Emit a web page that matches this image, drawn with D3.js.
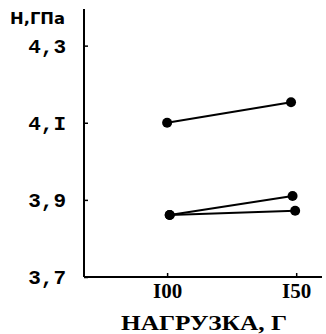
<!DOCTYPE html>
<html><head><meta charset="utf-8">
<script src="https://cdn.jsdelivr.net/npm/d3@7"></script>
<style>body{margin:0;background:#fff}svg{display:block}</style>
</head><body>
<svg id="c" width="326" height="334"></svg>
<script>
const yTicks = [3.7, 3.9, 4.1, 4.3];
const yTickLabels = ["3,7", "3,9", "4,I", "4,3"];
const xTicks = [100, 150];
const xTickLabels = ["I00", "I50"];
const series1X = [100, 148];
const series1Y = [4.10, 4.153];
const series2X = [101, 148.6];
const series2Y = [3.861, 3.910];
const series3X = [101, 149.6];
const series3Y = [3.861, 3.872];
const yTitle = "Н,ГПа";
const xTitle = "НАГРУЗКА, Г";

const svg = d3.select("#c");
const x = d3.scaleLinear().domain([67.8, 160]).range([84, 322]);
const y = d3.scaleLinear().domain([3.7, 4.395]).range([277, 9]);

const font = "'Liberation Mono', 'DejaVu Sans Mono', monospace";

const yAxis = d3.axisLeft(y).tickValues(yTicks).tickSize(-4).tickPadding(18)
  .tickFormat((d, i) => yTickLabels[i]);
const gy = svg.append("g").attr("transform", `translate(${x.range()[0]},0)`).call(yAxis);
gy.select(".domain").attr("stroke", "#000").attr("stroke-width", 2).attr("d", `M0,${y.range()[1]}V${y.range()[0]}`);
gy.selectAll(".tick line").attr("stroke", "#000").attr("stroke-width", 1.5);
gy.selectAll(".tick text").attr("fill", "#000").style("font-family", font)
  .style("font-size", "21px").style("font-weight", "bold");

const xAxis = d3.axisBottom(x).tickValues(xTicks).tickSize(-4).tickPadding(6)
  .tickFormat((d, i) => xTickLabels[i]);
const gx = svg.append("g").attr("transform", `translate(0,${y.range()[0]})`).call(xAxis);
gx.select(".domain").attr("stroke", "#000").attr("stroke-width", 2).attr("d", `M${x.range()[0]},0H${x.range()[1]}`);
gx.selectAll(".tick line").attr("stroke", "#000").attr("stroke-width", 1.5);
gx.selectAll(".tick text").attr("fill", "#000").style("font-family", "'Liberation Serif', serif")
  .style("font-size", "21px").style("font-weight", "bold");

const seriesList = [[series1X, series1Y], [series2X, series2Y], [series3X, series3Y]];
const line = d3.line().x(d => x(d[0])).y(d => y(d[1]));
seriesList.forEach(([xs, ys]) => {
  const pts = xs.map((v, i) => [v, ys[i]]);
  svg.append("path").attr("d", line(pts)).attr("fill", "none").attr("stroke", "#000").attr("stroke-width", 2);
  svg.selectAll(null).data(pts).enter().append("circle")
    .attr("cx", d => x(d[0])).attr("cy", d => y(d[1])).attr("r", 5).attr("fill", "#000");
});

svg.append("text").attr("x", 10).attr("y", 24).text(yTitle)
  .style("font-family", "'DejaVu Sans', sans-serif").style("font-size", "15px").style("font-weight", "bold")
  .attr("textLength", 55).attr("lengthAdjust", "spacingAndGlyphs");
svg.append("text").attr("x", 204).attr("y", 330).attr("text-anchor", "middle").text(xTitle)
  .style("font-family", "'Liberation Serif', serif").style("font-size", "21px").style("font-weight", "bold")
  .attr("textLength", 166).attr("lengthAdjust", "spacingAndGlyphs");
</script>
</body></html>
